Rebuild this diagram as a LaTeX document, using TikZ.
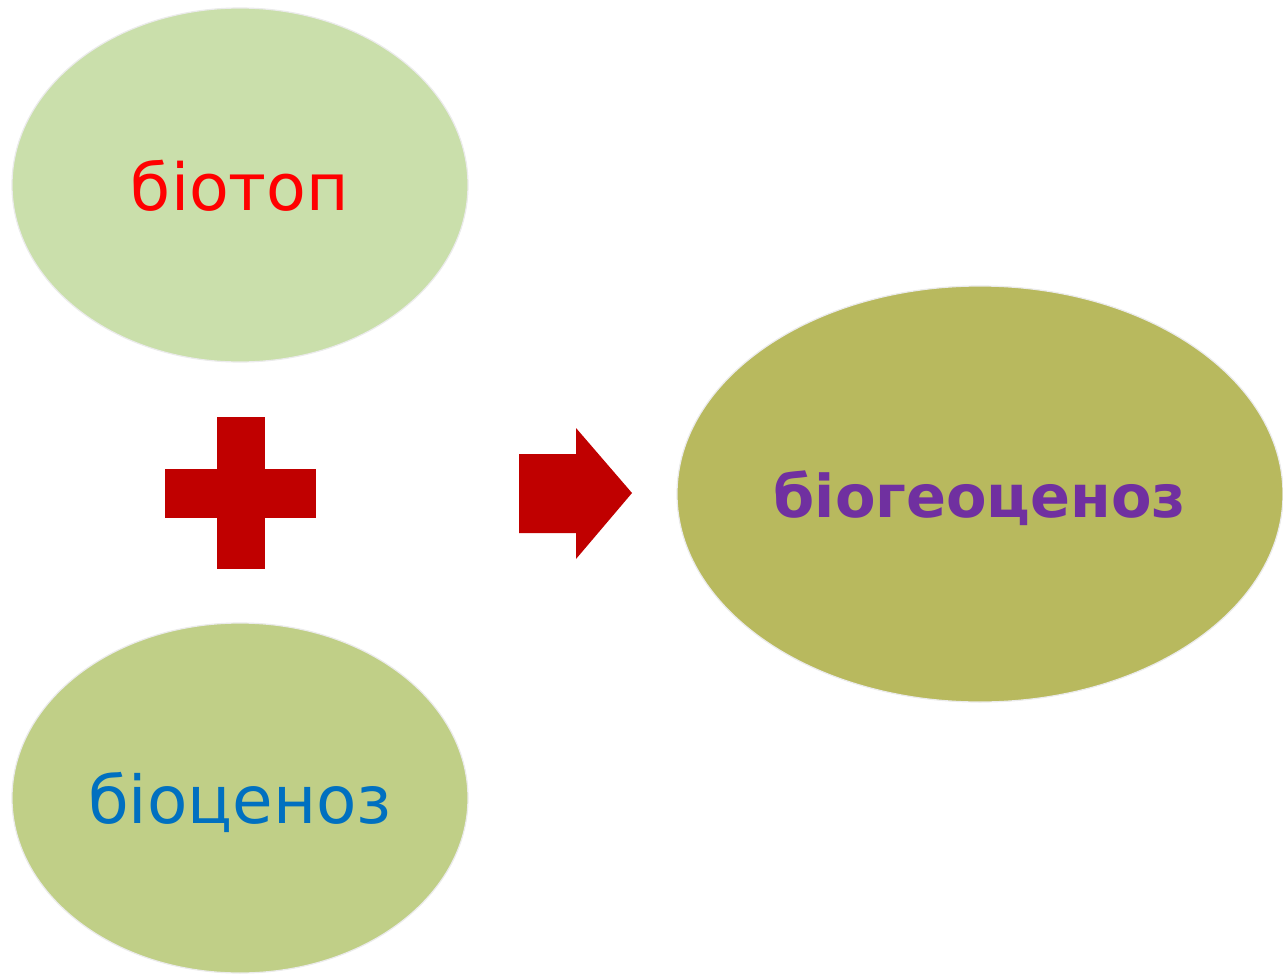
\documentclass[tikz,border=0pt]{standalone}
\usepackage{fontspec}
\setmainfont{DejaVu Sans}
\usetikzlibrary{shapes.geometric}
\definecolor{biotopfill}{HTML}{CADFAB}
\definecolor{biocenfill}{HTML}{C0CF87}
\definecolor{biogeofill}{HTML}{B8B95E}
\definecolor{signred}{HTML}{C00000}
\definecolor{txtred}{HTML}{FF0000}
\definecolor{txtblue}{HTML}{0070C0}
\definecolor{txtpurple}{HTML}{7030A0}
\begin{document}
\begin{tikzpicture}[x=1pt,y=-1pt,
  blob/.style={ellipse, draw=white!92!black, line width=1.2pt, inner sep=0pt, text depth=0pt},
  sign/.style={fill=signred, draw=none}]
\useasboundingbox (0,0) rectangle (1283,977);
\fill[white] (0,0) rectangle (1283,977);
% the two components
\node[blob, fill=biotopfill, minimum width=456pt, minimum height=354pt,
      font=\fontsize{65}{67}\selectfont, text=txtred] (biotop) at (240,185) {біотоп};
\node[blob, fill=biocenfill, minimum width=456pt, minimum height=350pt,
      font=\fontsize{66}{68}\selectfont, text=txtblue] (biocen) at (240,798) {біоценоз};
% the whole they form
\node[blob, fill=biogeofill, minimum width=606pt, minimum height=416pt,
      font=\bfseries\fontsize{59}{61}\selectfont, text=txtpurple] (biogeo) at (980,494) {біогеоценоз};
% plus sign
\fill[sign] (217,417) rectangle (265,569);
\fill[sign] (165,469) rectangle (316,518);
% block arrow
\fill[sign] (519,454) -- (576,454) -- (576,428) -- (632,493) -- (576,559) -- (576,533) -- (519,533) -- cycle;
\end{tikzpicture}
\end{document}
